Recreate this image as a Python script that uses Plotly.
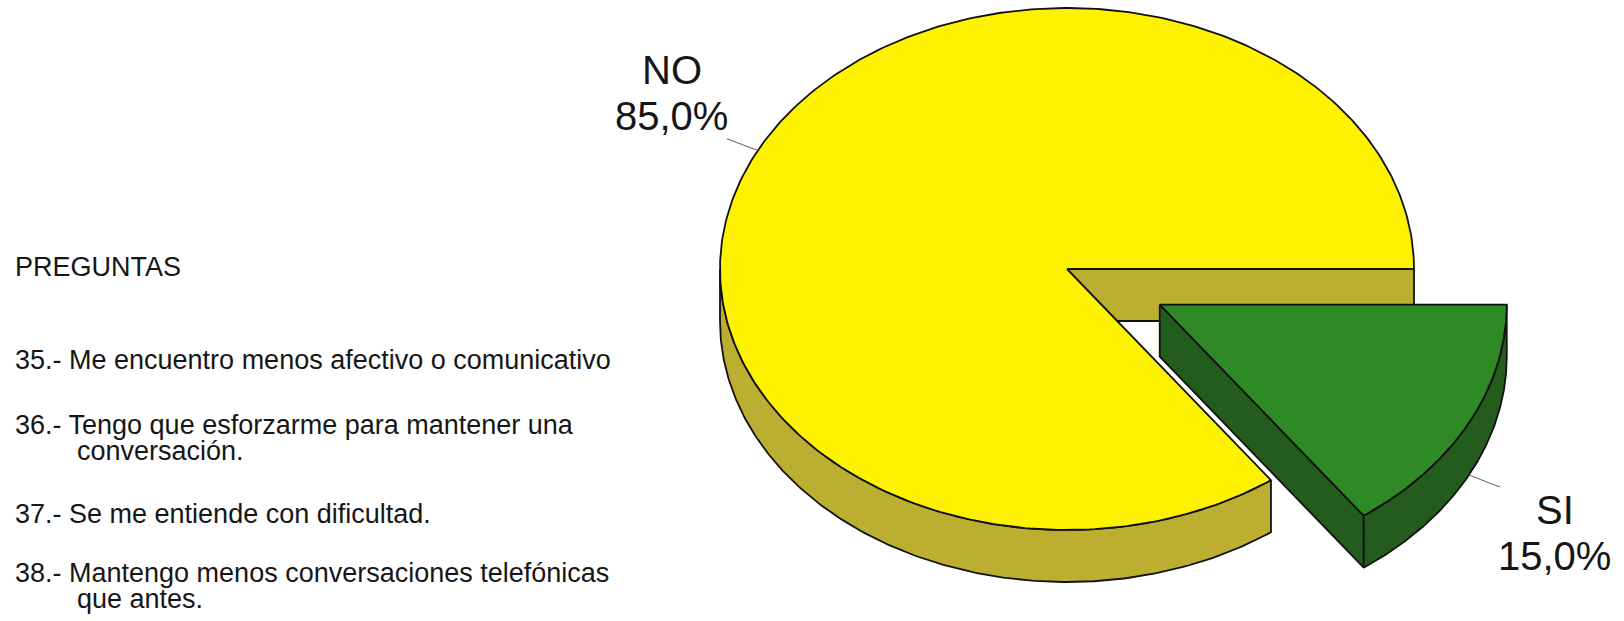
import numpy as np
import plotly.graph_objects as go

# --- data -------------------------------------------------------------
categories = ["SI", "NO"]
percentages = [15.0, 85.0]
pulled = [0.3, 0.0]
top_colors = ["#2E8A24", "#FFF200"]
side_colors = ["#245C1D", "#BCAE30"]

question_title = "PREGUNTAS"
questions = [
    ["35.- Me encuentro menos afectivo o comunicativo"],
    ["36.- Tengo que esforzarme para mantener una", "conversación."],
    ["37.- Se me entiende con dificultad."],
    ["38.- Mantengo menos conversaciones telefónicas", "que antes."],
]

# --- layout constants (pixel space) -------------------------------------
W, H = 1624, 621
CX, CY = 1067, 269        # centre of the pie's top ellipse
RX, RY = 347, 261         # ellipse radii
DEPTH = 52                # thickness of the 3D disc
FONT = "Liberation Sans, Arial, sans-serif"
EDGE = dict(color="#111111", width=1.8)
TEXT_COLOR = "#161616"

fig = go.Figure()


def rim(ox, oy, t_deg, r=1.0):
    t = np.radians(t_deg)
    return ox + r * RX * np.cos(t), oy + r * RY * np.sin(t)


def add_poly(xs, ys, color):
    fig.add_trace(go.Scatter(
        x=list(xs) + [xs[0]], y=list(ys) + [ys[0]],
        mode="lines", fill="toself", fillcolor=color, line=EDGE,
        hoverinfo="skip", showlegend=False,
    ))


# build slices: start at 3 o'clock, run clockwise on screen
slices = []
start = 0.0
for name, pct, pull, ctop, cside in zip(categories, percentages, pulled,
                                        top_colors, side_colors):
    t0, t1 = start, start + pct / 100.0 * 360.0
    mid = (t0 + t1) / 2
    ox, oy = rim(CX, CY, mid, pull)
    slices.append(dict(name=name, pct=pct, t0=t0, t1=t1, mid=mid,
                       ox=ox, oy=oy, ctop=ctop, cside=cside))
    start = t1

# paint from back to front
for s in sorted(slices, key=lambda d: d["oy"]):
    ox, oy, t0, t1 = s["ox"], s["oy"], s["t0"], s["t1"]

    # radial walls facing the viewer
    for t, visible in ((t0, np.cos(np.radians(t0)) < 0),
                       (t1, np.cos(np.radians(t1)) > 0)):
        if visible:
            rx_, ry_ = rim(ox, oy, t)
            add_poly([ox, rx_, rx_, ox], [oy, ry_, ry_ + DEPTH, oy + DEPTH],
                     s["cside"])

    # outer curved wall (front half of the ellipse only)
    a, b = max(t0, 0.0), min(t1, 180.0)
    if b > a:
        ts = np.linspace(a, b, 200)
        xs, ys = rim(ox, oy, ts)
        add_poly(np.concatenate([xs, xs[::-1]]),
                 np.concatenate([ys, ys[::-1] + DEPTH]), s["cside"])

    # top face
    ts = np.linspace(t0, t1, 400)
    xs, ys = rim(ox, oy, ts)
    add_poly(np.concatenate([[ox], xs]), np.concatenate([[oy], ys]), s["ctop"])

# leader lines and slice labels
for s in slices:
    front = np.sin(np.radians(s["mid"])) > 0
    x0, y0 = rim(s["ox"], s["oy"], s["mid"], 1.0)
    x1, y1 = rim(s["ox"], s["oy"], s["mid"], 1.1)
    if front:
        y0 += DEPTH
        y1 += DEPTH
    fig.add_trace(go.Scatter(x=[x0, x1], y=[y0, y1], mode="lines",
                             line=dict(color="#707070", width=1.1),
                             hoverinfo="skip", showlegend=False))
    lines = [s["name"], f"{s['pct']:.1f}%".replace(".", ",")]
    sx = 1 if np.cos(np.radians(s["mid"])) > 0 else -1
    tx = x1 + sx * 55
    for k, txt in enumerate(lines):
        if front:
            ty = y1 + 23 + 46 * k
        else:
            ty = y1 - 23 - 46 * (len(lines) - 1 - k)
        fig.add_annotation(x=tx, y=ty, text=txt, showarrow=False,
                           xanchor="center", yanchor="middle",
                           font=dict(family=FONT, size=40, color=TEXT_COLOR))

# question list on the left
fig.add_annotation(x=13, y=267, text=question_title, showarrow=False,
                   xanchor="left", yanchor="middle",
                   font=dict(family=FONT, size=27, color=TEXT_COLOR))
q_rows = [360, 425, 514, 573]
for row_y, q in zip(q_rows, questions):
    for k, txt in enumerate(q):
        fig.add_annotation(x=13 if k == 0 else 75, y=row_y + 26 * k, text=txt,
                           showarrow=False, xanchor="left", yanchor="middle",
                           font=dict(family=FONT, size=27, color=TEXT_COLOR))

fig.update_layout(
    width=W, height=H,
    margin=dict(l=0, r=0, t=0, b=0),
    paper_bgcolor="white", plot_bgcolor="white",
    xaxis=dict(range=[0, W], visible=False, fixedrange=True),
    yaxis=dict(range=[H, 0], visible=False, fixedrange=True),
    showlegend=False,
)

fig.write_html("out.html")
